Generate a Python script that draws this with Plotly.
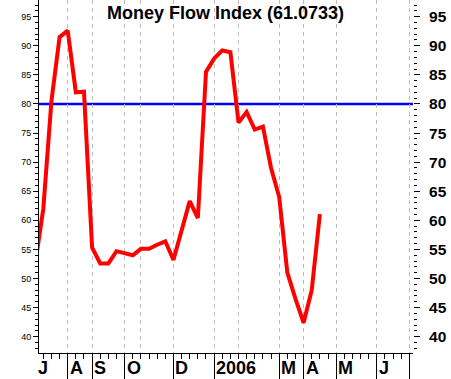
import plotly.graph_objects as go

# ---- data (weekly Money Flow Index, week index 0 = first tick) ----
weeks = list(range(-1, 35))
mfi = [52.5, 62.0, 80.5, 91.5, 92.6, 82.0, 82.1, 55.3, 52.6, 52.6,
       54.7, 54.4, 54.0, 55.1, 55.1, 55.8, 56.4, 53.2, 58.0, 63.3,
       60.4, 85.5, 87.8, 89.2, 88.9, 76.8, 78.6, 75.6, 76.1, 69.0,
       64.0, 51.0, 46.5, 42.4, 48.0, 61.0733]
overbought = 80

x_start, x_end = -0.53, 45.45
y_low, y_high = 37.2, 97.87

grid_weeks = [3, 6, 10, 12, 16, 21, 24, 29, 32, 36, 41, 45]
long_tick_weeks = [3, 6, 10, 16, 21, 29, 32, 36, 41, 45]
label_weeks = [x_start, 3, 6, 10, 16, 21, 29, 32, 36, 41]
month_labels = ["J", "A", "S", "O", "D", "2006", "M", "A", "M", "J"]

title_text = f"Money Flow Index ({mfi[-1]:.4f})"

FONT = "Liberation Sans"

fig = go.Figure()
fig.add_trace(go.Scatter(x=weeks, y=mfi, mode="lines",
                         line=dict(color="#FF0000", width=4),
                         hoverinfo="skip", showlegend=False))
fig.add_trace(go.Scatter(x=[weeks[-1]], y=[mfi[-1]], mode="markers",
                         marker=dict(opacity=0), xaxis="x2", yaxis="y2",
                         hoverinfo="skip", showlegend=False))
fig.add_hline(y=overbought, line=dict(color="#0000FF", width=2.5), layer="below")

for i, (w, lab) in enumerate(zip(label_weeks, month_labels)):
    fig.add_annotation(x=w, xref="x", y=0, yref="paper", text=lab,
                       showarrow=False, xanchor="left", yanchor="middle",
                       yshift=-14.5, xshift=(-3 if i == 0 else 0),
                       font=dict(family=FONT, size=18, color="black", weight="bold"))

fig.update_layout(
    width=451, height=379,
    margin=dict(l=39, r=38, t=0, b=26),
    paper_bgcolor="white", plot_bgcolor="white", showlegend=False,
    title=dict(text=title_text, x=0.5, xanchor="center",
               y=1 - 13 / 379, yanchor="middle",
               font=dict(family=FONT, size=18, color="black", weight="bold")),
    xaxis=dict(range=[x_start, x_end], tickmode="array", tickvals=long_tick_weeks,
               ticks="outside", ticklen=26, tickcolor="black", tickwidth=1,
               showticklabels=False, showgrid=False, zeroline=False,
               showline=True, linecolor="black", linewidth=1,
               minor=dict(tickmode="linear", tick0=0, dtick=1, ticks="outside",
                          ticklen=5, tickcolor="black", tickwidth=1, showgrid=False)),
    xaxis2=dict(range=[x_start, x_end], overlaying="x", anchor="y2",
                tickmode="array", tickvals=grid_weeks, ticks="",
                showticklabels=False, showgrid=True, gridcolor="#BDBDBD",
                griddash="4px,4px", gridwidth=1, zeroline=False, showline=False),
    yaxis=dict(range=[y_low, y_high], tickmode="linear", tick0=0, dtick=5,
               ticks="outside", ticklen=5, tickcolor="black",
               showline=True, linecolor="black", linewidth=1,
               showgrid=False, zeroline=False,
               tickfont=dict(family=FONT, size=9, color="black"),
               minor=dict(tickmode="linear", tick0=0, dtick=1, ticks="outside",
                          ticklen=3, tickcolor="black", showgrid=False)),
    yaxis2=dict(range=[y_low, y_high], overlaying="y", side="right", anchor="x2",
                tickmode="linear", tick0=0, dtick=5,
                ticks="outside", ticklen=6, tickcolor="black",
                ticklabelstandoff=6,
                showline=False, showgrid=False, zeroline=False,
                tickfont=dict(family=FONT, size=15.5, color="black", weight="bold"),
                minor=dict(tickmode="linear", tick0=0, dtick=1, ticks="outside",
                           ticklen=3, tickcolor="black", showgrid=False)),
)

fig.write_html("out.html")
